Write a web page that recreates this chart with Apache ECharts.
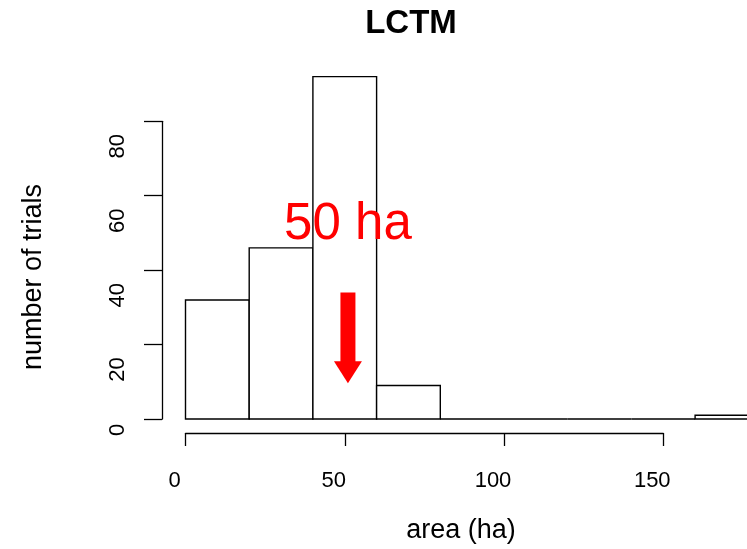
<!DOCTYPE html>
<html>
<head>
<meta charset="utf-8">
<script src="https://cdn.jsdelivr.net/npm/echarts@6/dist/echarts.min.js"></script>
<style>
  html, body { margin: 0; padding: 0; background: #fff; }
  #chart { width: 747px; height: 549px; }
</style>
</head>
<body>
<div id="chart"></div>
<script>
// histogram bins (ha) and counts
const binStart = [0, 20, 40, 60, 80, 100, 120, 140, 160]
const binEnd = [20, 40, 60, 80, 100, 120, 140, 160, 180]
const counts = [32, 46, 92, 9, 0, 0, 0, 0, 1]

// tick values
const xTicks = [0, 50, 100, 150]
const yTicks = [0, 20, 40, 60, 80]

// annotation: arrow at the mean and its label
const arrowX = [51]
const arrowFrom = [34]
const arrowTo = [9.6]
const noteText = ['50 ha']
const noteX = [51]
const noteY = [52.2]

const FONT = '"Liberation Sans", Arial, Helvetica, sans-serif'

const myChart = echarts.init(document.getElementById('chart'), null, { renderer: 'canvas' })

const bars = binStart.map((s, i) => [s, binEnd[i], counts[i]])
const arrows = arrowX.map((x, i) => [x, arrowFrom[i], arrowTo[i]])
const notes = noteX.map((x, i) => [x, noteY[i], noteText[i]])

// the plot region runs past the right edge of the picture, so the visible
// part of the x scale ends a little before the last break
const PX_PER_HA = 3.185
const plotLeft = 185.5
const plotWidth = 747 - plotLeft
const xVisibleMax = plotWidth / PX_PER_HA

myChart.setOption({
    animation: false,
    textStyle: { fontFamily: FONT },
    grid: [
        // plot area
        { left: plotLeft, top: 46.9, width: plotWidth, height: 372.1 },
        // y axis (R style, 0..80)
        { left: 162, top: 121.3, width: 10, height: 297.7 },
        // x axis (R style, 0..150, offset below)
        { left: plotLeft, top: 432, width: 150 * PX_PER_HA, height: 1 }
    ],
    xAxis: [
        { type: 'value', gridIndex: 0, min: 0, max: xVisibleMax, show: false },
        { type: 'value', gridIndex: 1, min: 0, max: 1, show: false },
        {
            type: 'value', gridIndex: 2, min: 0, max: 150, interval: 50,
            axisLine: { show: true, lineStyle: { color: '#000', width: 1.3 } },
            axisTick: { show: true, length: 13, lineStyle: { color: '#000', width: 1.3 } },
            axisLabel: {
                color: '#000', fontSize: 22, margin: 37, padding: [0, 22, 0, 0],
                formatter: v => xTicks.includes(v) ? String(v) : ''
            },
            splitLine: { show: false }
        }
    ],
    yAxis: [
        { type: 'value', gridIndex: 0, min: 0, max: 100, show: false },
        {
            type: 'value', gridIndex: 1, min: 0, max: 80, interval: 20,
            axisLine: { show: true, lineStyle: { color: '#000', width: 1.3 } },
            axisTick: { show: true, length: 18, lineStyle: { color: '#000', width: 1.3 } },
            axisLabel: {
                color: '#000', fontSize: 22, rotate: 90, margin: 33,
                formatter: v => {
                    if (!yTicks.includes(v)) return ''
                    return v < 10 ? '{s|' + v + '}' : '{d|' + v + '}'
                },
                rich: {
                    s: { fontSize: 22, color: '#000', padding: [0, 22, 0, 0] },
                    d: { fontSize: 22, color: '#000', padding: [0, 50, 0, 0] }
                }
            },
            splitLine: { show: false }
        },
        { type: 'value', gridIndex: 2, min: 0, max: 1, show: false }
    ],
    graphic: [
        {
            type: 'text', x: 411, y: 24,
            style: { text: 'LCTM', font: 'bold 33px ' + FONT, fill: '#000', textAlign: 'center', textVerticalAlign: 'middle' }
        },
        {
            type: 'text', x: 461, y: 531,
            style: { text: 'area (ha)', font: '27px ' + FONT, fill: '#000', textAlign: 'center', textVerticalAlign: 'middle' }
        },
        {
            type: 'text', x: 33.5, y: 277, rotation: Math.PI / 2,
            style: { text: 'number of trials', font: '27px ' + FONT, fill: '#000', textAlign: 'center', textVerticalAlign: 'middle' }
        }
    ],
    series: [
        {
            name: 'bins',
            type: 'custom',
            xAxisIndex: 0,
            yAxisIndex: 0,
            clip: false,
            data: bars,
            encode: { x: [0, 1], y: 2 },
            renderItem: (params, api) => {
                const p0 = api.coord([api.value(0), 0])
                const p1 = api.coord([api.value(1), api.value(2)])
                return {
                    type: 'rect',
                    shape: { x: p0[0], y: p1[1], width: p1[0] - p0[0], height: p0[1] - p1[1] },
                    style: { fill: '#fff', stroke: '#000', lineWidth: 1.4 }
                }
            }
        },
        {
            name: 'arrow',
            type: 'custom',
            xAxisIndex: 0,
            yAxisIndex: 0,
            clip: false,
            data: arrows,
            encode: { x: 0, y: [1, 2] },
            renderItem: (params, api) => {
                const top = api.coord([api.value(0), api.value(1)])
                const tip = api.coord([api.value(0), api.value(2)])
                const headLen = 22
                const shaftW = 15
                const headW = 28
                return {
                    type: 'group',
                    children: [
                        {
                            type: 'rect',
                            shape: { x: top[0] - shaftW / 2, y: top[1], width: shaftW, height: tip[1] - headLen - top[1] + 1 },
                            style: { fill: '#ff0000' }
                        },
                        {
                            type: 'polygon',
                            shape: { points: [[tip[0] - headW / 2, tip[1] - headLen], [tip[0] + headW / 2, tip[1] - headLen], [tip[0], tip[1]]] },
                            style: { fill: '#ff0000' }
                        }
                    ]
                }
            }
        },
        {
            name: 'note',
            type: 'custom',
            xAxisIndex: 0,
            yAxisIndex: 0,
            clip: false,
            data: notes,
            encode: { x: 0, y: 1 },
            renderItem: (params, api) => {
                const p = api.coord([api.value(0), api.value(1)])
                return {
                    type: 'text',
                    x: p[0], y: p[1],
                    style: { text: notes[params.dataIndex][2], font: '51px ' + FONT, fill: '#ff0000', textAlign: 'center', textVerticalAlign: 'middle' }
                }
            }
        }
    ]
})

window.addEventListener('resize', myChart.resize)
</script>
</body>
</html>
